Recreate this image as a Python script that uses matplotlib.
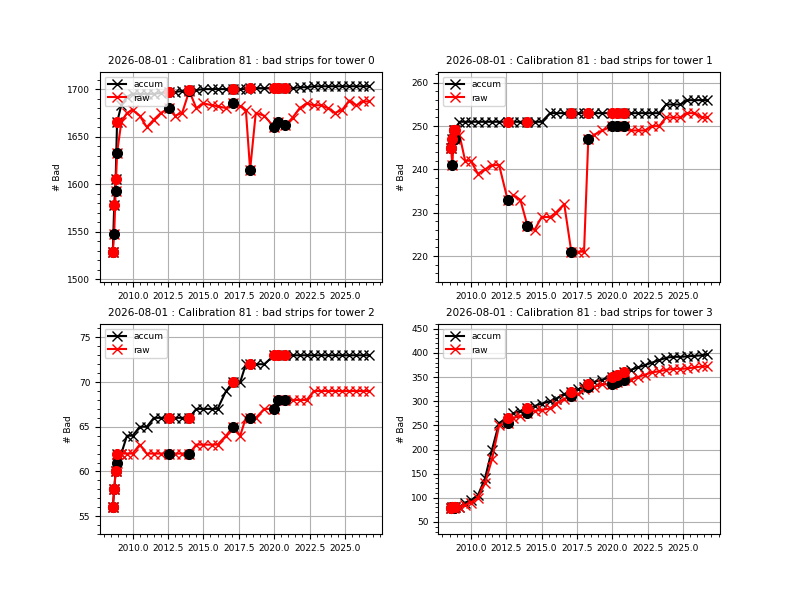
import matplotlib
matplotlib.use("Agg")
import matplotlib.pyplot as plt

dates = [2008.6, 2008.7, 2008.8, 2008.9, 2009.2, 2009.6, 2010.0, 2010.5, 2011.0, 2011.5,
         2012.0, 2012.6, 2013.0, 2013.5, 2014.0, 2014.5, 2015.0, 2015.6, 2016.0, 2016.6,
         2017.1, 2017.6, 2018.0, 2018.3, 2018.7, 2019.3, 2020.0, 2020.3, 2020.8, 2021.3,
         2021.8, 2022.3, 2022.8, 2023.3, 2023.8, 2024.3, 2024.8, 2025.3, 2025.8, 2026.3, 2026.7]

accum0 = [1529, 1578, 1605, 1665, 1683, 1692, 1695, 1695, 1695, 1695, 1696, 1697, 1697, 1698, 1699, 1699,
          1700, 1700, 1700, 1700, 1700, 1700, 1700, 1701, 1701, 1701, 1701, 1701, 1701, 1701, 1702, 1702,
          1703, 1703, 1703, 1703, 1703, 1703, 1703, 1703, 1703]
raw0 = [1529, 1548, 1593, 1633, 1665, 1675, 1678, 1672, 1660, 1668, 1675, 1680, 1672, 1675, 1698, 1680,
        1685, 1683, 1682, 1680, 1685, 1682, 1678, 1615, 1675, 1672, 1660, 1665, 1662, 1670, 1680, 1685,
        1683, 1683, 1680, 1675, 1678, 1688, 1683, 1687, 1687]
accum1 = [245, 247, 249, 249, 251, 251, 251, 251, 251, 251, 251, 251, 251, 251, 251, 251, 251, 253, 253, 253,
          253, 253, 253, 253, 253, 253, 253, 253, 253, 253, 253, 253, 253, 253, 255, 255, 255, 256, 256, 256, 256]
raw1 = [245, 241, 249, 247, 248, 242, 242, 239, 240, 241, 241, 233, 234, 233, 227, 226, 229, 229, 230, 232,
        221, 221, 221, 247, 248, 249, 250, 250, 250, 249, 249, 249, 250, 250, 252, 252, 252, 253, 253, 252, 252]
accum2 = [56, 58, 60, 62, 62, 64, 64, 65, 65, 66, 66, 66, 66, 66, 66, 67, 67, 67, 67, 69, 70, 70, 72, 72, 72,
          72, 73, 73, 73, 73, 73, 73, 73, 73, 73, 73, 73, 73, 73, 73, 73]
raw2 = [56, 58, 60, 61, 62, 62, 62, 63, 62, 62, 62, 62, 62, 62, 62, 63, 63, 63, 63, 64, 65, 64, 66, 66, 66,
        67, 67, 68, 68, 68, 68, 68, 69, 69, 69, 69, 69, 69, 69, 69, 69]
accum3 = [78, 80, 80, 80, 80, 90, 95, 105, 140, 200, 255, 265, 275, 280, 285, 290, 295, 300, 305, 315, 320,
          325, 330, 335, 340, 345, 350, 355, 360, 365, 370, 375, 380, 385, 390, 392, 392, 393, 394, 395, 397]
raw3 = [78, 80, 78, 80, 80, 85, 90, 100, 130, 180, 250, 255, 265, 270, 275, 280, 282, 285, 295, 305, 310,
        315, 325, 330, 330, 335, 335, 340, 345, 345, 350, 355, 360, 362, 365, 367, 367, 368, 370, 372, 372]

# calibration points highlighted with big dots
special = [0, 1, 2, 3, 11, 14, 20, 23, 26, 27, 28]

towers = [(accum0, raw0), (accum1, raw1), (accum2, raw2), (accum3, raw3)]
ylims = [(1497, 1718), (214, 262.5), (53, 76.5), (25, 460)]
yticks = [range(1500, 1701, 50), range(220, 261, 10), range(55, 76, 5), range(50, 451, 50)]

fig, axes = plt.subplots(2, 2, figsize=(8, 6), dpi=100)
for t, (ax, (acc, raw)) in enumerate(zip(axes.flat, towers)):
    ax.plot(dates, acc, color='black', marker='x', markersize=7, label='accum')
    ax.plot(dates, raw, color='red', marker='x', markersize=7, label='raw')
    ax.plot([dates[i] for i in special], [raw[i] for i in special], 'o', color='black', markersize=7)
    ax.plot([dates[i] for i in special], [acc[i] for i in special], 'o', color='red', markersize=7)
    ax.set_title(f"2026-08-01 : Calibration 81 : bad strips for tower {t}", fontsize=7.5)
    ax.set_ylabel("# Bad", fontsize=6.5)
    ax.set_ylim(*ylims[t])
    ax.set_yticks(list(yticks[t]))
    ax.set_xticks([2010, 2012.5, 2015, 2017.5, 2020, 2022.5, 2025])
    ax.minorticks_on()
    ax.tick_params(labelsize=6.5)
    ax.grid(True)
    ax.legend(loc='upper left', fontsize=6.5)

plt.savefig("out.png")
